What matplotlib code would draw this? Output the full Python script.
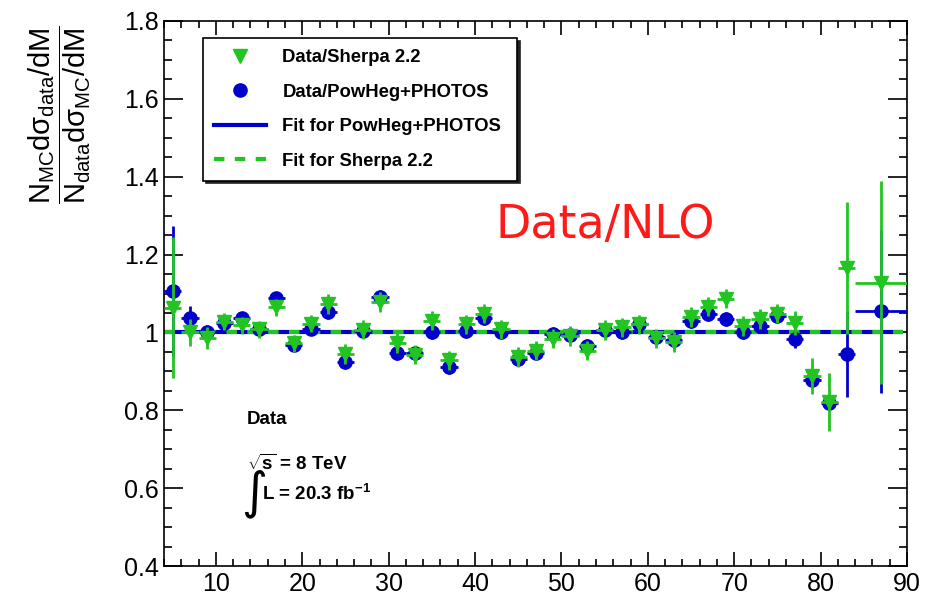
import numpy as np
import matplotlib
matplotlib.use('Agg')
import matplotlib.pyplot as plt
from matplotlib.lines import Line2D
from matplotlib.ticker import MultipleLocator, FuncFormatter

# Шрифты в стиле ROOT (Helvetica -> Liberation Sans)
plt.rcParams['font.family'] = ['Liberation Sans', 'DejaVu Sans']
plt.rcParams['mathtext.fontset'] = 'custom'
plt.rcParams['mathtext.rm'] = 'Liberation Sans'
plt.rcParams['mathtext.it'] = 'Liberation Sans'
plt.rcParams['mathtext.bf'] = 'Liberation Sans:bold'

# Данные: центры бинов по M и отношения Data/MC
mass = [5, 7, 9, 11, 13, 15, 17, 19, 21, 23, 25, 27, 29, 31, 33, 35, 37, 39, 41, 43,
        45, 47, 49, 51, 53, 55, 57, 59, 61, 63, 65, 67, 69, 71, 73, 75, 77, 79, 81, 83, 87]
mass_halfwidth = [1] * 40 + [3]

ratio_powheg = [1.106, 1.037, 1.000, 1.024, 1.037, 1.008, 1.088, 0.967, 1.010, 1.052,
                0.923, 1.003, 1.090, 0.948, 0.946, 1.001, 0.911, 1.004, 1.036, 1.002,
                0.932, 0.946, 0.995, 0.993, 0.966, 1.006, 1.002, 1.022, 0.988, 0.980,
                1.029, 1.048, 1.034, 1.002, 1.017, 1.043, 0.984, 0.878, 0.820, 0.945, 1.054]
err_powheg = [0.168, 0.030, 0.018, 0.015, 0.015, 0.015, 0.015, 0.015, 0.015, 0.018,
              0.018, 0.018, 0.018, 0.018, 0.018, 0.018, 0.018, 0.018, 0.018, 0.018,
              0.018, 0.018, 0.018, 0.018, 0.018, 0.018, 0.018, 0.018, 0.018, 0.018,
              0.018, 0.018, 0.018, 0.018, 0.018, 0.018, 0.025, 0.020, 0.020, 0.110, 0.210]

ratio_sherpa = [1.064, 1.000, 0.985, 1.027, 1.018, 1.008, 1.065, 0.972, 1.022, 1.073,
                0.944, 1.007, 1.078, 0.973, 0.943, 1.030, 0.928, 1.021, 1.048, 1.008,
                0.937, 0.953, 0.984, 0.991, 0.953, 1.006, 1.013, 1.021, 0.985, 0.976,
                1.040, 1.066, 1.087, 1.017, 1.035, 1.048, 1.024, 0.888, 0.822, 1.165, 1.128]
err_sherpa = [0.180, 0.035, 0.028, 0.022, 0.022, 0.022, 0.022, 0.022, 0.022, 0.025,
              0.025, 0.025, 0.025, 0.025, 0.025, 0.025, 0.025, 0.025, 0.025, 0.025,
              0.025, 0.025, 0.025, 0.025, 0.025, 0.025, 0.025, 0.025, 0.025, 0.025,
              0.025, 0.025, 0.025, 0.025, 0.025, 0.025, 0.030, 0.047, 0.075, 0.170, 0.260]

# Фиты константой
fit_range = [4, 89.5]
fit_powheg = 1.0
fit_sherpa = 1.0

blue = '#0000cc'
green = '#22c422'

fig = plt.figure(figsize=(9.35, 5.95), dpi=100)
ax = fig.add_axes([164 / 935, 29 / 595, 743 / 935, 545 / 595])

# Линии фита
ax.plot(fit_range, [fit_powheg] * 2, color=blue, lw=3, solid_capstyle='butt', zorder=2)
ax.plot(fit_range, [fit_sherpa] * 2, color=green, lw=3, dashes=(2.5, 2.5), zorder=2.1)

# Точки с ошибками
ax.errorbar(mass, ratio_powheg, yerr=err_powheg, xerr=mass_halfwidth, fmt='o',
            color=blue, ms=9.5, elinewidth=2, capsize=0, zorder=3)
ax.errorbar(mass, ratio_sherpa, yerr=err_sherpa, xerr=mass_halfwidth, fmt='v',
            color=green, ms=9.5, elinewidth=2, capsize=0, zorder=4)

# Оси
ax.set_xlim(4, 90)
ax.set_ylim(0.4, 1.8)
ax.xaxis.set_major_locator(MultipleLocator(10))
ax.xaxis.set_minor_locator(MultipleLocator(2))
ax.yaxis.set_major_locator(MultipleLocator(0.2))
ax.yaxis.set_minor_locator(MultipleLocator(0.05))
ax.yaxis.set_major_formatter(FuncFormatter(lambda v, p: f'{v:g}'))
ax.tick_params(which='both', direction='in', top=True, right=True, width=1.2, labelsize=18)
ax.tick_params(axis='x', which='major', length=10, pad=4)
ax.tick_params(axis='x', which='minor', length=5)
ax.tick_params(axis='y', which='major', length=14, pad=4)
ax.tick_params(axis='y', which='minor', length=6)
for sp in ax.spines.values():
    sp.set_linewidth(1.2)

# Подпись оси Y (дробь)
fig.text(0.064, 1 - 115 / 595,
         r'$\dfrac{N_{MC}d\sigma_{data}/dM}{N_{data}d\sigma_{MC}/dM}$',
         rotation=90, ha='center', va='center', fontsize=21)

# Легенда
handles = [
    Line2D([], [], marker='v', ls='none', color=green, ms=9.5),
    Line2D([], [], marker='o', ls='none', color=blue, ms=9.5),
    Line2D([], [], color=blue, lw=3),
    Line2D([], [], color=green, lw=3, dashes=(2.5, 2.5)),
]
labels = ['Data/Sherpa 2.2', 'Data/PowHeg+PHOTOS', 'Fit for PowHeg+PHOTOS', 'Fit for Sherpa 2.2']
leg = ax.legend(handles, labels, loc='upper left', bbox_to_anchor=(0.0525, 0.712, 0.4226, 0.257),
                mode='expand', borderaxespad=0, fancybox=False, numpoints=1,
                prop={'weight': 'bold', 'size': 13.3}, handlelength=2.8, handletextpad=0.9,
                labelspacing=0.95, borderpad=0.6,
                shadow={'color': '#222222', 'alpha': 1.0}, framealpha=1)
leg.get_frame().set_edgecolor('black')
leg.get_frame().set_linewidth(1.2)

# Надписи
ax.text(0.594, 0.624, 'Data/NLO', transform=ax.transAxes, color='#ff1a1a',
        fontsize=33, family='DejaVu Sans', ha='center', va='center')
ax.text(0.1117, 0.2680, 'Data', transform=ax.transAxes, fontsize=13.5,
        fontweight='bold', va='center')
ax.text(0.1117, 0.1880, r'$\sqrt{\mathbf{s}}$ = 8 TeV', transform=ax.transAxes,
        fontsize=13.5, fontweight='bold', va='center')
ax.text(0.1040, 0.1330, '\u222b', transform=ax.transAxes, fontsize=36,
        family='DejaVu Sans', va='center')
ax.text(0.1319, 0.1330, r'L = 20.3 fb$^{\mathbf{-1}}$', transform=ax.transAxes,
        fontsize=13.5, fontweight='bold', va='center')

fig.savefig('out.png', dpi=100)
